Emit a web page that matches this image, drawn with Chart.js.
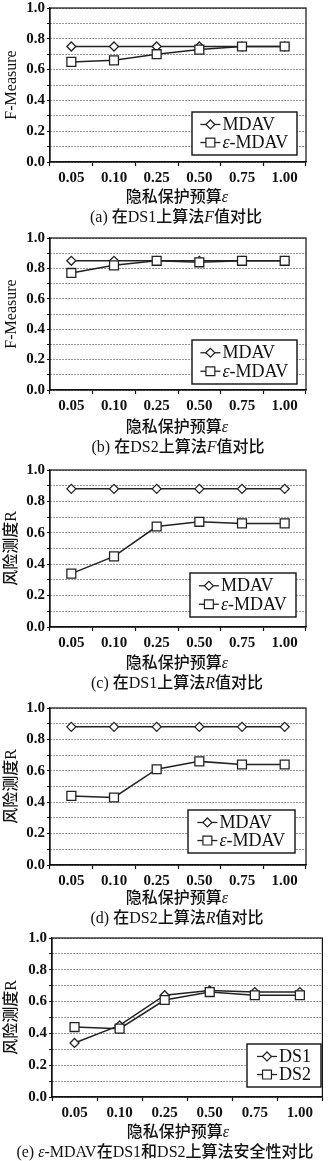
<!DOCTYPE html>
<html>
<head>
<meta charset="utf-8">
<script src="https://cdn.jsdelivr.net/npm/chart.js@4.4.0/dist/chart.umd.min.js"></script>
<style>
  html, body { margin: 0; padding: 0; background: #fff; }
  #wrap { position: relative; width: 330px; height: 1161px; overflow: hidden; }
  canvas { position: absolute; left: 0; }
  .lbl {
    position: absolute; left: 0; width: 330px; height: 18px; line-height: 18px;
    text-align: center; white-space: nowrap; color: #111; font-size: 16px; font-weight: 500;
    font-family: 'Liberation Serif', 'Noto Sans CJK SC', serif;
  }
  .lbl i { font-family: 'Liberation Serif', serif; }
</style>
</head>
<body>
<div id="wrap"></div>
<script>
// 隐私预算 ε
const epsilon = ['0.05', '0.10', '0.25', '0.50', '0.75', '1.00'];

// (a) DS1 F值
const fDs1Mdav = [0.75, 0.75, 0.75, 0.75, 0.75, 0.75];
const fDs1Eps = [0.65, 0.66, 0.70, 0.73, 0.75, 0.75];
// (b) DS2 F值
const fDs2Mdav = [0.85, 0.85, 0.85, 0.85, 0.85, 0.85];
const fDs2Eps = [0.77, 0.82, 0.85, 0.84, 0.85, 0.85];
// (c) DS1 R值
const rDs1Mdav = [0.88, 0.88, 0.88, 0.88, 0.88, 0.88];
const rDs1Eps = [0.34, 0.45, 0.64, 0.67, 0.66, 0.66];
// (d) DS2 R值
const rDs2Mdav = [0.88, 0.88, 0.88, 0.88, 0.88, 0.88];
const rDs2Eps = [0.44, 0.43, 0.61, 0.66, 0.64, 0.64];

const serif = "'Liberation Serif', 'Noto Sans CJK SC', serif";

// posiciones de cada panel (coordenadas de página)
const panels = [
  { top: 7, bottom: 162, left: 50, right: 306, xTitle: 197, cap: 217, titleX: 177, capX: 176,
    yTitle: 'F-Measure', capText: '(a) 在DS1上算法<i>F</i>值对比', legend: [192, 112, 105, 43],
    series: [['MDAV', fDs1Mdav, 'rectRot'], ['ε-MDAV', fDs1Eps, 'rect']] },
  { top: 237, bottom: 390, left: 50, right: 306, xTitle: 427, cap: 447, titleX: 177, capX: 178,
    yTitle: 'F-Measure', capText: '(b) 在DS2上算法<i>F</i>值对比', legend: [192, 340, 105, 44],
    series: [['MDAV', fDs2Mdav, 'rectRot'], ['ε-MDAV', fDs2Eps, 'rect']] },
  { top: 469, bottom: 627, left: 50, right: 306, xTitle: 663, cap: 683, titleX: 177, capX: 177,
    yTitle: '风险测度R', capText: '(c) 在DS1上算法<i>R</i>值对比', legend: [190, 573, 106, 44],
    series: [['MDAV', rDs1Mdav, 'rectRot'], ['ε-MDAV', rDs1Eps, 'rect']] },
  { top: 707, bottom: 865, left: 50, right: 306, xTitle: 898, cap: 918, titleX: 177, capX: 177,
    yTitle: '风险测度R', capText: '(d) 在DS2上算法<i>R</i>值对比', legend: [188, 810, 107, 43],
    series: [['MDAV', rDs2Mdav, 'rectRot'], ['ε-MDAV', rDs2Eps, 'rect']] },
  { top: 937, bottom: 1097, left: 52, right: 330, xTitle: 1132, cap: 1152, titleX: 178, capX: 165,
    yTitle: '风险测度R', capText: '(e) <i>ε</i>-MDAV在DS1和DS2上算法安全性对比', legend: [247, 1044, 74, 43],
    series: [['DS1', rDs1Eps, 'rectRot'], ['DS2', rDs2Eps, 'rect']] }
];

const markerSize = { rectRot: 4.5, rect: 6.3 };

// marco superior/derecho del área
const frame = {
  id: 'frame',
  beforeDatasetsDraw(chart) {
    const { ctx, chartArea: a } = chart;
    ctx.save();
    ctx.strokeStyle = '#111';
    ctx.lineWidth = 1.2;
    ctx.strokeRect(a.left, a.top, a.right - a.left, a.bottom - a.top);
    ctx.restore();
  }
};

const drawRich = (ctx, text, x, y) => {
  text.split(/(ε)/).filter(Boolean).forEach((part) => {
    ctx.font = (part === 'ε' ? 'italic ' : '') + "18px 'Liberation Serif', serif";
    ctx.fillText(part, x, y);
    x += ctx.measureText(part).width;
  });
  return x;
};

// leyenda con caja, dentro del área
const boxLegend = {
  id: 'boxLegend',
  afterDraw(chart, args, opts) {
    const { ctx } = chart;
    const [x, y0, w, h] = opts.box;
    const y = y0 - opts.offsetY;
    ctx.save();
    ctx.fillStyle = '#fff';
    ctx.fillRect(x, y, w, h);
    ctx.strokeStyle = '#111';
    ctx.lineWidth = 1.4;
    ctx.strokeRect(x, y, w, h);
    ctx.textBaseline = 'middle';
    const ds = chart.data.datasets;
    ctx.font = "18px 'Liberation Serif', serif";
    const textW = Math.max(...ds.map(d => ctx.measureText(d.label).width));
    const lineLen = 20;
    const startX = x + (w - (lineLen + 2 + textW)) / 2;
    ds.forEach((d, i) => {
      const cy = y + h * (i === 0 ? 0.29 : 0.71);
      ctx.strokeStyle = '#222';
      ctx.lineWidth = 1.3;
      ctx.beginPath();
      ctx.moveTo(startX, cy);
      ctx.lineTo(startX + lineLen, cy);
      ctx.stroke();
      ctx.fillStyle = '#fff';
      ctx.lineWidth = 1.2;
      Chart.helpers.drawPoint(ctx, { pointStyle: d.pointStyle, radius: d.pointRadius, rotation: 0, borderWidth: 1.2 }, startX + lineLen / 2, cy);
      ctx.fillStyle = '#111';
      drawRich(ctx, d.label, startX + lineLen + 2, cy + 1);
    });
    ctx.restore();
  }
};

const wrap = document.getElementById('wrap');

panels.forEach((p) => {
  const canvasTop = p.top - 10;
  const xH = 26;
  const canvasH = p.bottom + xH - canvasTop;
  const cv = document.createElement('canvas');
  cv.width = 330;
  cv.height = canvasH;
  cv.style.top = canvasTop + 'px';
  cv.style.width = '330px';
  cv.style.height = canvasH + 'px';
  wrap.appendChild(cv);

  const datasets = p.series.map(([label, values, style], i) => ({
    label,
    data: values,
    borderColor: '#222',
    borderWidth: 1.5,
    pointStyle: style,
    pointRadius: markerSize[style],
    pointBackgroundColor: '#fff',
    pointBorderColor: '#222',
    pointBorderWidth: 1.3,
    order: i === 0 ? 2 : 1,
    tension: 0
  }));

  new Chart(cv, {
    type: 'line',
    data: { labels: epsilon, datasets },
    options: {
      responsive: false,
      animation: false,
      devicePixelRatio: 1,
      layout: { padding: { top: 10, right: 330 - p.right, left: 0, bottom: 0 } },
      plugins: {
        legend: { display: false },
        tooltip: { enabled: false },
        boxLegend: { box: p.legend, offsetY: canvasTop }
      },
      scales: {
        x: {
          offset: true,
          grid: { offset: true, drawOnChartArea: false, drawTicks: true, tickLength: 4, tickColor: '#111', tickWidth: 1.2 },
          border: { color: '#111', width: 1.3 },
          ticks: { color: '#111', padding: 3, font: { family: serif, size: 15, weight: 'bold' }, maxRotation: 0, autoSkip: false },
          afterFit: (s) => { s.height = xH; }
        },
        y: {
          min: 0,
          max: 1,
          ticks: {
            stepSize: 0.1,
            autoSkip: false,
            color: '#111',
            padding: 2,
            font: { family: serif, size: 15, weight: 'bold' },
            callback: (v) => (Math.round(v * 10) % 2 === 0 ? v.toFixed(1) : '')
          },
          grid: { color: '#777', lineWidth: 1, tickLength: 3, tickColor: '#111', tickBorderDash: [] },
          border: { color: '#111', width: 1.3, dash: [1.5, 1.5] },
          title: { display: true, text: p.yTitle, color: '#111', padding: { top: 2, bottom: 0 }, font: { family: serif, size: 16, weight: 500 } },
          afterFit: (s) => { s.width = p.left; }
        }
      }
    },
    plugins: [frame, boxLegend]
  });

  const t = document.createElement('div');
  t.className = 'lbl';
  t.style.top = (p.xTitle - 9) + 'px';
  t.style.left = (p.titleX - 165) + 'px';
  t.innerHTML = '隐私保护预算<i>ε</i>';
  wrap.appendChild(t);

  const c = document.createElement('div');
  c.className = 'lbl';
  c.style.top = (p.cap - 9) + 'px';
  c.style.left = (p.capX - 165) + 'px';
  c.innerHTML = p.capText;
  wrap.appendChild(c);
});
</script>
</body>
</html>
